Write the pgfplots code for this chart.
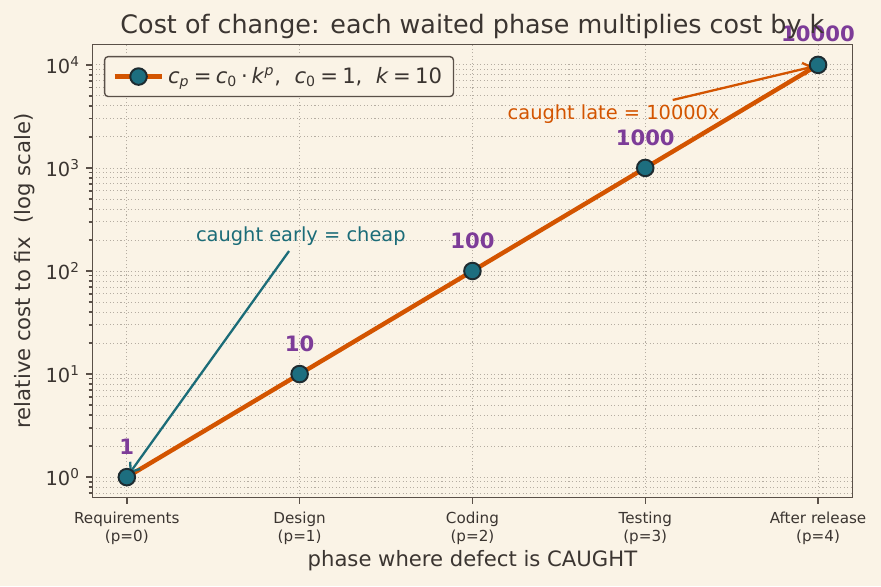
\documentclass[border=0pt]{standalone}
\usepackage{fontspec}
\setmainfont{DejaVu Sans}
\usepackage{pgfplots}
\pgfplotsset{compat=1.18}
\usepackage{pgfplotstable}
\usetikzlibrary{arrows.meta}

\definecolor{bg}{HTML}{FAF3E6}
\definecolor{inkc}{HTML}{3B3531}
\definecolor{spine}{HTML}{5A5048}
\definecolor{gridc}{HTML}{B5ADA2}
\definecolor{lineor}{HTML}{D35400}
\definecolor{markteal}{HTML}{1D6E7F}
\definecolor{markedge}{HTML}{1E2B30}
\definecolor{labpurple}{HTML}{7D3C98}
\definecolor{noteteal}{HTML}{1B6C78}

% relative cost of fixing a defect, by the phase in which it is caught
\pgfplotstableread{
p cost label
0 1 1
1 10 10
2 100 100
3 1000 1000
4 10000 10000
}\costdata

\begin{document}
\begin{tikzpicture}
\fill[bg] (0,0) rectangle (499.5pt,332.3pt);
\useasboundingbox (0,0) rectangle (499.5pt,332.3pt);
\begin{axis}[
  at={(52.3pt,50.1pt)}, anchor=south west,
  scale only axis, width=431.1pt, height=257.1pt,
  ymode=log, log basis y=10,
  xmin=-0.2, xmax=4.2, ymin=0.631, ymax=15849,
  clip=false,
  axis background/.style={fill=bg},
  axis line style={spine, line width=0.8pt},
  tick align=outside, xtick pos=bottom, ytick pos=left,
  major tick length=3.5pt, minor tick length=2pt,
  every tick/.style={spine, line width=0.8pt},
  xtick={0,1,2,3,4},
  xticklabels={{Requirements\\(p=0)},{Design\\(p=1)},{Coding\\(p=2)},{Testing\\(p=3)},{After release\\(p=4)}},
  xticklabel style={align=center, font=\fontsize{8.6}{10.2}\selectfont, text=inkc, yshift=-1pt},
  ytick={1,10,100,1000,10000},
  yticklabels={10\textsuperscript{0},10\textsuperscript{1},10\textsuperscript{2},10\textsuperscript{3},10\textsuperscript{4}},
  minor ytick={0.7,0.8,0.9,2,3,4,5,6,7,8,9,20,30,40,50,60,70,80,90,200,300,400,500,600,700,800,900,2000,3000,4000,5000,6000,7000,8000,9000},
  yticklabel style={font=\fontsize{11}{13}\selectfont, text=inkc},
  xmajorgrids=true, ymajorgrids=true, yminorgrids=true,
  major grid style={gridc, line width=0.5pt, dash pattern=on 0.6pt off 1.4pt},
  minor grid style={gridc, line width=0.5pt, dash pattern=on 0.6pt off 1.4pt},
  title={Cost of change: each waited phase multiplies cost by k},
  every axis title/.style={at={(axis description cs:0.5,1)}, anchor=base, yshift=6.2pt, font=\fontsize{14.4}{17}\selectfont, text=inkc},
  xlabel={phase where defect is CAUGHT},
  every axis x label/.style={at={(axis description cs:0.5,0)}, anchor=base, yshift=-39.1pt, font=\fontsize{12}{14}\selectfont, text=inkc},
  ylabel={relative cost to fix\ \ (log scale)},
  every axis y label/.style={at={(axis description cs:-0.0884,0.5)}, rotate=90, anchor=center, font=\fontsize{12}{14}\selectfont, text=inkc},
  legend style={at={(axis description cs:0,1)}, anchor=north west, xshift=6.6pt, yshift=-6.6pt,
    fill=bg, draw=spine, line width=0.8pt, rounded corners=2pt,
    font=\fontsize{12}{14}\selectfont, text=inkc, inner xsep=4.5pt, inner ysep=4pt},
  legend image code/.code={\draw[mark repeat=2, mark phase=2, #1] plot coordinates {(0pt,0pt) (13.5pt,0pt) (27pt,0pt)};},
]
\addplot[lineor, line width=2.5pt, mark=*, mark size=4.7pt,
  mark options={fill=markteal, draw=markedge, line width=1.1pt},
  nodes near coords, point meta=explicit symbolic,
  every node near coord/.style={anchor=base, yshift=13pt, inner sep=0pt,
    font=\fontsize{12}{14}\selectfont\bfseries, text=labpurple}]
  table[x=p, y=cost, meta=label] {\costdata};
\addlegendentry{\textit{c}\textsubscript{\textit{p}}\hspace{0.2em}=\hspace{0.2em}\textit{c}\textsubscript{0}\hspace{0.18em}·\hspace{0.18em}\textit{k}\textsuperscript{\textit{p}},\ \ \textit{c}\textsubscript{0}\hspace{0.2em}=\hspace{0.2em}1,\ \ \textit{k}\hspace{0.2em}=\hspace{0.2em}10}

% annotations
\draw[noteteal, line width=1.3pt, -{Straight Barb[length=4.5pt,width=7pt]}]
  (axis cs:0.939,156.3) -- (axis cs:0.0157,1.089);
\node[noteteal, anchor=base, inner sep=0pt, font=\fontsize{11}{13}\selectfont]
  at (axis cs:1.007,195.5) {caught early = cheap};
\draw[lineor, line width=1.3pt, -{Straight Barb[length=4.5pt,width=7pt]}]
  (axis cs:3.159,4564) -- (axis cs:3.971,9610);
\node[lineor, anchor=base, inner sep=0pt, font=\fontsize{11}{13}\selectfont]
  at (axis cs:2.817,2920) {caught late = 10000x};
\end{axis}
\end{tikzpicture}
\end{document}
